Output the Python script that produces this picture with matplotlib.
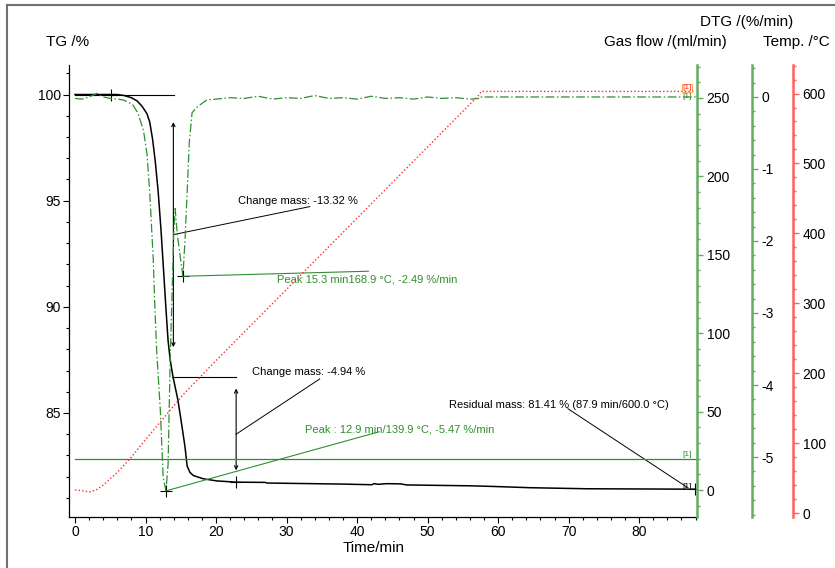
import numpy as np
import matplotlib.pyplot as plt
from matplotlib.ticker import MultipleLocator
from matplotlib.lines import Line2D

plt.rcParams['font.family'] = ['Liberation Sans', 'DejaVu Sans']

# TG curve (mass %, vs time in min)
tg_time = [0, 2, 4, 6, 7, 8, 8.8, 9.5, 10.2, 10.6, 11.0, 11.4, 11.8, 12.2, 12.6, 12.9,
           13.2, 13.5, 13.9, 14.6, 15.2, 15.6, 15.9, 16.3, 16.8, 18.2, 20.1, 22.9,
           27.0, 27.2, 38.0, 42.1, 42.4, 43.0, 44.2, 46.2, 47.0, 55.9, 59.2, 64.5,
           72.6, 88.0]
tg_mass = [100.0, 100.0, 100.0, 100.0, 99.95, 99.85, 99.7, 99.45, 99.1, 98.7, 97.9,
           96.8, 95.4, 93.6, 91.5, 89.9, 88.4, 87.5, 86.7, 85.6, 84.3, 83.4, 82.5,
           82.2, 82.05, 81.9, 81.8, 81.74, 81.73, 81.70, 81.65, 81.62, 81.67, 81.64,
           81.67, 81.66, 81.61, 81.57, 81.54, 81.48, 81.43, 81.41]

# DTG curve (%/min)
dtg_time = [0, 1, 2, 3.1, 4, 5, 6, 6.8, 7.5, 8.2, 8.9, 9.7, 10.2, 10.6, 11.1, 11.3,
            11.6, 12.1, 12.5, 12.9, 13.2, 13.5, 13.8, 14.0, 14.2, 14.5, 14.9, 15.3,
            15.6, 15.9, 16.2, 16.6, 17.3, 18.7, 20, 22, 24, 26, 28, 30, 32, 34, 36,
            38, 40, 42, 44, 46, 48, 50, 52, 54, 56, 57.4, 57.5, 60, 70, 80, 88]
dtg_vals = [-0.02, -0.03, 0.0, 0.05, 0.0, -0.02, -0.03, -0.04, -0.07, -0.11, -0.22,
            -0.46, -0.78, -1.33, -2.26, -2.86, -3.56, -4.35, -5.28, -5.47, -5.1,
            -3.65, -2.6, -1.9, -1.55, -1.9, -2.2, -2.49, -1.99, -1.33, -0.64, -0.22,
            -0.14, -0.04, -0.03, -0.01, -0.02, 0.01, -0.03, -0.01, -0.02, 0.02, -0.02,
            -0.01, -0.03, 0.01, -0.02, -0.01, -0.03, 0.0, -0.02, -0.01, -0.03, -0.02,
            0.0, 0.0, 0.0, 0.0, 0.0]

# Temperature program (°C)
temp_time = [0, 1, 2, 3, 4, 6, 8, 10, 12.9, 15.3, 20, 57.3, 57.6, 88]
temp_vals = [33, 32, 30, 33, 40, 58, 80, 105, 139.9, 168.9, 218, 598, 603, 603]

# Gas flow (ml/min)
gas_time = [0, 88]
gas_vals = [20, 20]

# evaluation results
step1_start, step1_end = 100.0, 86.68   # -13.32 %
step2_end = 81.74                        # -4.94 %
peak1 = (12.9, -5.47)
peak2 = (15.3, -2.49)
residual = (87.9, 81.41)

green = '#2f8f2f'
green_spine = '#62ad62'
red = '#ff2a2a'
red_spine = '#ff6060'

fig = plt.figure(figsize=(8.35, 5.68), dpi=100)
W, H = 835, 568
ax = fig.add_axes([69 / W, 1 - 517 / H, 628 / W, 452 / H])
ax.set_xlim(-0.85, 88.2)
ax.set_ylim(80.10, 101.39)

ax2 = ax.twinx()
ax2.set_ylim(-17.2, 271.0)
ax3 = ax.twinx()
ax3.set_ylim(-5.833, 0.444)
ax4 = ax.twinx()
ax4.set_ylim(-5.7, 640.8)

for a in (ax, ax2, ax3, ax4):
    a.patch.set_visible(False)
    for s in ('top', 'right', 'left', 'bottom'):
        a.spines[s].set_visible(False)

ax.spines['left'].set_visible(True)
ax.spines['bottom'].set_visible(True)
ax.spines['left'].set_linewidth(0.9)
ax.spines['bottom'].set_linewidth(0.9)

ax2.spines['right'].set_visible(True)
ax2.spines['right'].set_color(green_spine)
ax2.spines['right'].set_linewidth(1.8)
ax3.spines['right'].set_visible(True)
ax3.spines['right'].set_position(('axes', 683 / 628))
ax3.spines['right'].set_color(green_spine)
ax3.spines['right'].set_linewidth(1.8)
ax4.spines['right'].set_visible(True)
ax4.spines['right'].set_position(('axes', 724 / 628))
ax4.spines['right'].set_color(red_spine)
ax4.spines['right'].set_linewidth(1.8)

fs = 10
ax.xaxis.set_major_locator(MultipleLocator(10))
ax.xaxis.set_minor_locator(MultipleLocator(2))
ax.yaxis.set_major_locator(MultipleLocator(5))
ax.yaxis.set_minor_locator(MultipleLocator(1))
ax.tick_params(which='major', length=4, width=0.8, labelsize=fs, pad=2)
ax.tick_params(which='minor', length=2.5, width=0.8)

ax2.yaxis.set_major_locator(MultipleLocator(50))
ax2.yaxis.set_minor_locator(MultipleLocator(10))
ax3.yaxis.set_major_locator(MultipleLocator(1))
ax3.yaxis.set_minor_locator(MultipleLocator(0.2))
ax4.yaxis.set_major_locator(MultipleLocator(100))
ax4.yaxis.set_minor_locator(MultipleLocator(20))
for a, c in ((ax2, green_spine), (ax3, green_spine), (ax4, red_spine)):
    a.tick_params(which='major', length=4, width=1.0, color=c, labelsize=fs, pad=3)
    a.tick_params(which='minor', length=2.5, width=1.0, color=c)
ax3.set_yticks([0, -1, -2, -3, -4, -5])
ax3.set_yticklabels(['0', '-1', '-2', '-3', '-4', '-5'])

# curves
ax4.plot(temp_time, temp_vals, color=red, lw=1.0, linestyle=(0, (1, 1.6)))
ax2.plot(gas_time, gas_vals, color=green, lw=0.9)
ax3.plot(dtg_time, dtg_vals, color=green, lw=0.9, linestyle=(0, (7, 2, 1.2, 2)))
ax.plot(tg_time, tg_mass, color='black', lw=1.1)

afs = 8
# evaluation marks - step 1
ax.plot([0, 14.05], [step1_start, step1_start], color='black', lw=0.8)
ax.plot([5.1], [step1_start], marker='+', color='black', ms=9, mew=0.8)
ax.annotate('', xy=(13.95, 98.7), xytext=(13.95, 88.1),
            arrowprops=dict(arrowstyle='<->', lw=0.8, color='black',
                            shrinkA=0, shrinkB=0, mutation_scale=6))
ax.plot([13.95, 33.3], [93.4, 94.72], color='black', lw=0.7)
ax.text(23.1, 95.0, 'Change mass: -13.32 %', fontsize=afs, va='center', ha='left')

# step 2
ax.plot([13.76, 22.85], [step1_end, step1_end], color='black', lw=0.8)
ax.annotate('', xy=(22.85, 86.15), xytext=(22.85, 82.3),
            arrowprops=dict(arrowstyle='<->', lw=0.8, color='black',
                            shrinkA=0, shrinkB=0, mutation_scale=6))
ax.plot([22.85], [step2_end], marker='+', color='black', ms=9, mew=0.8)
ax.plot([22.85, 34.7], [84.0, 86.6], color='black', lw=0.7)
ax.text(25.1, 86.93, 'Change mass: -4.94 %', fontsize=afs, va='center', ha='left')

# peaks
ax3.plot([peak2[0]], [peak2[1]], marker='+', color='black', ms=9, mew=0.8)
ax3.plot([peak2[0], 41.6], [peak2[1], -2.42], color=green, lw=0.8)
ax.text(28.65, 91.31, 'Peak 15.3 min168.9 °C, -2.49 %/min', fontsize=afs,
        color=green, va='center', ha='left')
ax3.plot([peak1[0]], [peak1[1]], marker='+', color='black', ms=9, mew=0.8)
ax3.plot([peak1[0], 43.1], [peak1[1], -4.65], color=green, lw=0.8)
ax.text(32.6, 84.24, 'Peak : 12.9 min/139.9 °C, -5.47 %/min', fontsize=afs,
        color=green, va='center', ha='left')

# residual mass
ax.plot([residual[0]], [residual[1]], marker='+', color='black', ms=9, mew=0.8)
ax.plot([69.9, 86.8], [85.2, 81.5], color='black', lw=0.7)
ax.text(53.05, 85.37, 'Residual mass: 81.41 % (87.9 min/600.0 °C)', fontsize=afs,
        va='center', ha='left')

# curve labels
ax.text(86.8, 81.55, '[1]', fontsize=6, ha='center', va='center')
ax2.text(86.8, 22.5, '[1]', fontsize=6, ha='center', va='center', color=green)
ax4.text(86.8, 608, '[1]', fontsize=6, ha='center', va='center', color=red,
         bbox=dict(boxstyle='square,pad=0.05', fc='none', ec='#ff9933', lw=0.6))
ax3.text(86.8, 0.01, '[1]', fontsize=6, ha='center', va='center', color=green)

# axis titles
tfs = 11
fig.text(68 / W, 1 - 42 / H, 'TG /%', fontsize=tfs, ha='center', va='center')
fig.text(727 / W, 1 - 42 / H, 'Gas flow /(ml/min)', fontsize=tfs, ha='right', va='center')
fig.text(747 / W, 1 - 22 / H, 'DTG /(%/min)', fontsize=tfs, ha='center', va='center')
fig.text(796 / W, 1 - 42 / H, 'Temp. /°C', fontsize=tfs, ha='center', va='center')
fig.text(374 / W, 1 - 548 / H, 'Time/min', fontsize=tfs, ha='center', va='center')

# outer frame
fig.add_artist(Line2D([7 / W, 1], [1 - 5 / H, 1 - 5 / H], color='#707070', lw=1.5))
fig.add_artist(Line2D([7 / W, 7 / W], [0, 1 - 5 / H], color='#707070', lw=1.5))

fig.savefig('out.png', dpi=100)
